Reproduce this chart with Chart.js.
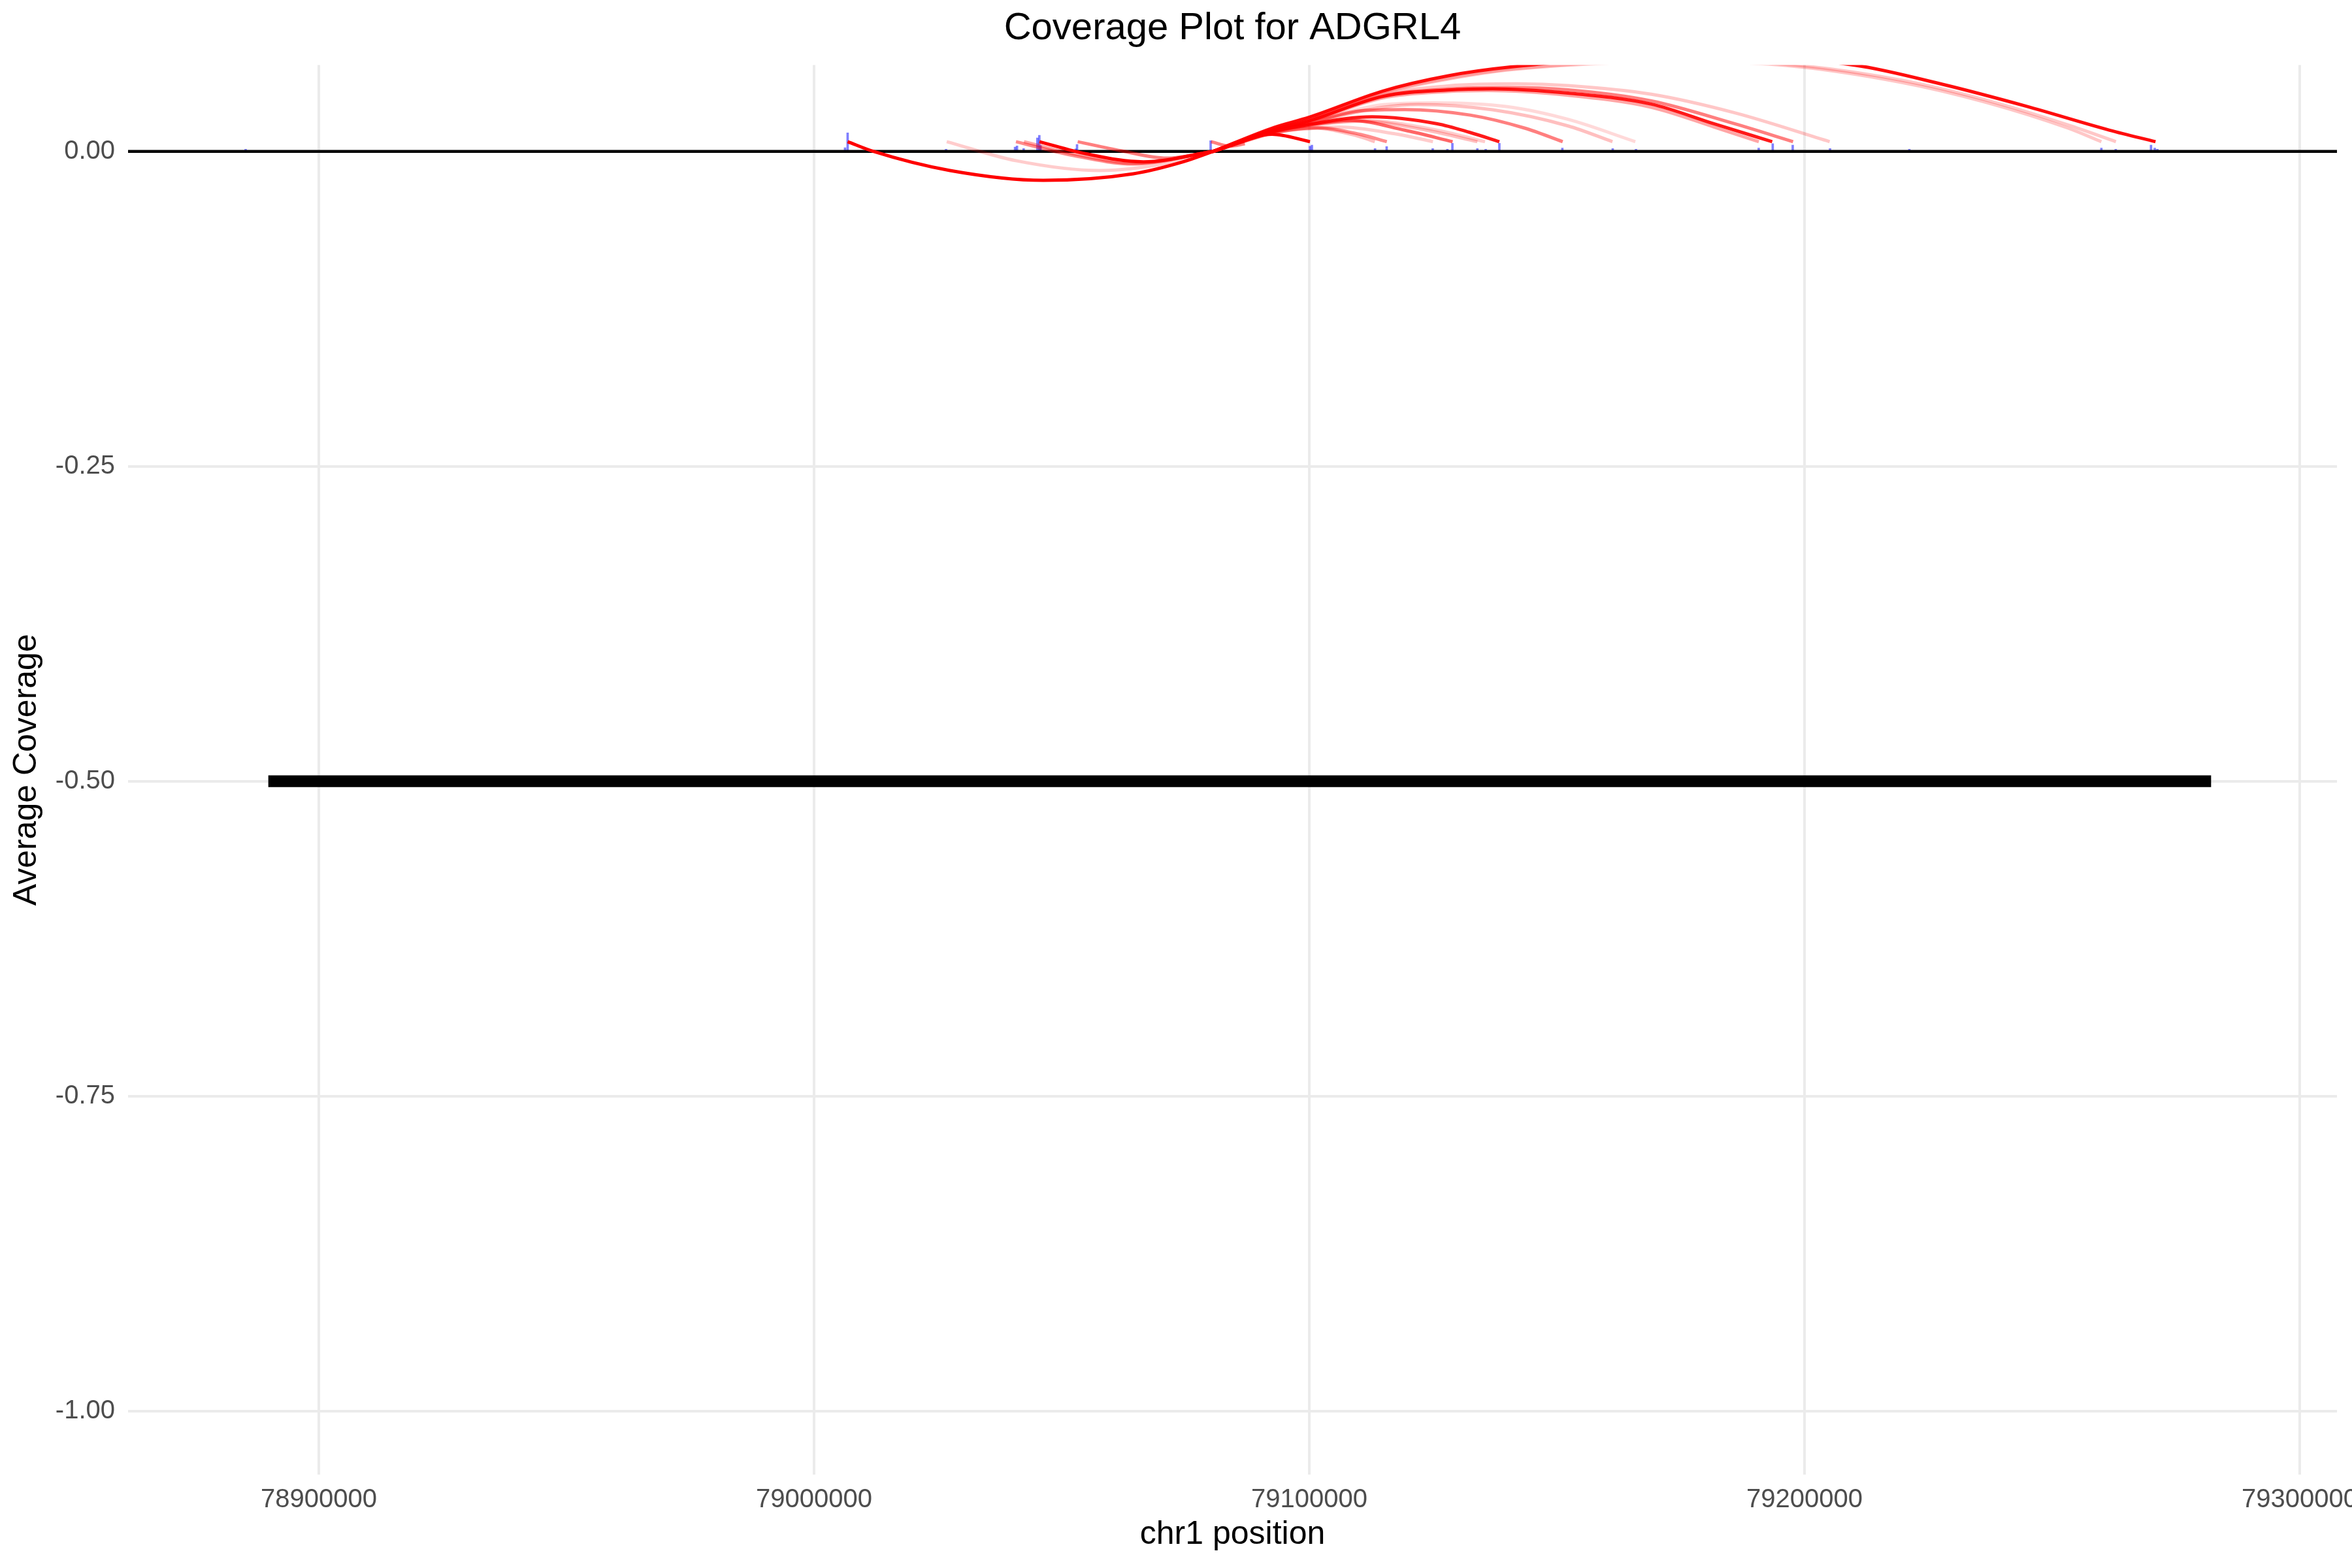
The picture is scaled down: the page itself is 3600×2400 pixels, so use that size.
<!DOCTYPE html>
<html>
<head>
<meta charset="utf-8">
<script src="https://cdn.jsdelivr.net/npm/chart.js@4.4.1/dist/chart.umd.min.js"></script>
<style>
html,body{margin:0;padding:0;background:#ffffff;}
canvas{display:block;}
</style>
</head>
<body>
<canvas id="c" width="3600" height="2400" style="width:3600px;height:2400px"></canvas>
<script>
// ---------------- data ----------------
const chartTitle = 'Coverage Plot for ADGRL4';
const xTitle = 'chr1 position';
const yTitle = 'Average Coverage';

const xTicks = [78900000, 79000000, 79100000, 79200000, 79300000];
const yTicks = [-1.00, -0.75, -0.50, -0.25, 0.00];
const xRange = [78861478, 79307520];
const yRange = [-1.0503, 0.0685];

// gene model (thick black bar)
const geneSpan = [78889800, 79282100];
const geneLevel = -0.5;

// baseline at zero
const baseLevel = 0;

// average coverage spikes
const covPos = [78885224, 79006258, 79006784, 79026653, 79040585, 79040981, 79042327, 79045098, 79045492, 79045769,
                79052828, 79053105, 79080085, 79100138, 79100534, 79113278, 79115627, 79124928, 79127887, 79128899,
                79133938, 79135627, 79138384, 79151102, 79161274, 79165971, 79190753, 79193584, 79197621, 79205154,
                79221171, 79259945, 79262847, 79269971, 79270725, 79271254];
const covVal = [0.0017, 0.0029, 0.0147, 0.0017, 0.0034, 0.0043, 0.0022, 0.0107, 0.0128, 0.0046,
                0.0020, 0.0055, 0.0085, 0.0041, 0.0050, 0.0022, 0.0038, 0.0022, 0.0017, 0.0064,
                0.0022, 0.0017, 0.0064, 0.0027, 0.0022, 0.0017, 0.0027, 0.0062, 0.0050, 0.0022,
                0.0017, 0.0027, 0.0017, 0.0050, 0.0027, 0.0017];

// junction arcs: points [position, height]
const arcLines = [
  // lower arcs
  [[79006784,0.0077],[79011968,0.0],[79027444,-0.0152],[79046297,-0.0230],[79064477,-0.0178],[79074543,-0.0083],[79080625,0]],
  [[79026785,0.0077],[79040900,-0.0075],[79057749,-0.0152],[79072000,-0.0090],[79080625,0]],
  [[79040769,0.0077],[79052000,-0.0030],[79064477,-0.0100],[79080625,0]],
  [[79042392,0.0077],[79053000,-0.0025],[79065000,-0.0095],[79080625,0]],
  [[79045492,0.0077],[79055000,-0.0020],[79066496,-0.0083],[79080625,0]],
  [[79053237,0.0077],[79062000,0.0005],[79071206,-0.0054],[79080625,0]],
  [[79080164,0.0077],[79084000,0.0042],[79087000,0.0060]],
  // upper arcs
  [[79080625,0],[79092500,0.0136],[79100138,0.0077]],
  [[79080625,0],[79092900,0.0145],[79100800,0.0185],[79109594,0.0124],[79113232,0.0077]],
  [[79080625,0],[79092900,0.0148],[79101677,0.0188],[79110470,0.0133],[79115657,0.0077]],
  [[79080625,0],[79092900,0.0150],[79100000,0.0180],[79106076,0.0193],[79117067,0.0141],[79124970,0.0077]],
  [[79080625,0],[79092900,0.0155],[79100000,0.0210],[79108275,0.0246],[79119270,0.0168],[79128943,0.0077]],
  [[79080625,0],[79092900,0.0158],[79100000,0.0205],[79110470,0.0240],[79123663,0.0168],[79133938,0.0077]],
  [[79080625,0],[79092900,0.0158],[79100000,0.0208],[79111000,0.0245],[79125000,0.0175],[79135495,0.0077]],
  [[79080625,0],[79092900,0.0160],[79100000,0.0215],[79112670,0.0275],[79125863,0.0219],[79132459,0.0150],[79138384,0.0077]],
  [[79080625,0],[79092900,0.0165],[79100000,0.0225],[79110470,0.0323],[79119270,0.0332],[79132459,0.0288],[79143454,0.0185],[79151173,0.0077]],
  [[79080625,0],[79092900,0.0167],[79100000,0.0228],[79114874,0.0350],[79122000,0.0372],[79137000,0.0330],[79152252,0.0202],[79161224,0.0077]],
  [[79080625,0],[79092900,0.0168],[79100000,0.0232],[79114874,0.0370],[79125000,0.0385],[79140000,0.0355],[79152252,0.0254],[79165840,0.0077]],
  [[79080625,0],[79092900,0.0172],[79100000,0.0240],[79114874,0.0425],[79128067,0.0475],[79136000,0.0483],[79152252,0.0445],[79169087,0.0350],[79181700,0.0194],[79190774,0.0077]],
  [[79080625,0],[79092900,0.0174],[79100000,0.0243],[79114874,0.0436],[79128067,0.0487],[79137000,0.0496],[79152252,0.0462],[79169087,0.0375],[79181700,0.0219],[79193480,0.0077]],
  [[79080625,0],[79092900,0.0175],[79100000,0.0245],[79114874,0.0440],[79128067,0.0495],[79140000,0.0506],[79152252,0.0488],[79169087,0.0400],[79185900,0.0219],[79197688,0.0077]],
  [[79080625,0],[79092900,0.0178],[79100000,0.0250],[79114874,0.0450],[79128067,0.0520],[79142000,0.0536],[79152252,0.0522],[79169087,0.0453],[79185900,0.0306],[79205088,0.0077]],
  [[79080625,0],[79092900,0.0183],[79100000,0.0260],[79114874,0.0465],[79128067,0.0574],[79141260,0.0650],[79173000,0.0710],[79195997,0.0683],[79219533,0.0548],[79236394,0.0392],[79253176,0.0185],[79259945,0.0077]],
  [[79080625,0],[79092900,0.0185],[79100000,0.0262],[79114874,0.0470],[79128067,0.0580],[79141260,0.0655],[79175000,0.0720],[79198000,0.0685],[79219533,0.0565],[79236394,0.0410],[79253176,0.0210],[79262887,0.0077]],
  [[79080625,0],[79092900,0.0190],[79100000,0.0271],[79114874,0.0479],[79128067,0.0600],[79141260,0.0672],[79178000,0.0770],[79210301,0.0683],[79227980,0.0531],[79244800,0.0358],[79261622,0.0168],[79270882,0.0077]]
];
const arcAlpha = [1.0, 0.2, 0.45, 0.35, 1.0, 0.5, 0.5,
                  1.0, 0.25, 0.45, 0.2, 0.6, 0.25, 0.2, 0.9, 0.5, 0.25, 0.15, 0.35, 0.9, 0.5, 0.22, 0.22, 0.22, 0.95];

// ---------------- chart ----------------
const FONT = "'Liberation Sans', Arial, Helvetica, sans-serif";
Chart.defaults.font.family = FONT;

const datasets = [];
arcLines.forEach((pts, i) => {
  datasets.push({
    type: 'line',
    data: pts.map(p => ({x: p[0], y: p[1]})),
    borderColor: 'rgba(255,0,0,' + arcAlpha[i] + ')',
    borderWidth: 5,
    pointRadius: 0,
    cubicInterpolationMode: 'monotone',
    borderCapStyle: 'butt',
    fill: false,
    clip: 0,
    order: 1
  });
});
datasets.push({
  type: 'line',
  data: [{x: xRange[0], y: baseLevel}, {x: xRange[1], y: baseLevel}],
  borderColor: '#000000',
  borderWidth: 4.5,
  pointRadius: 0,
  fill: false,
  clip: 0,
  order: 2
});
datasets.push({
  type: 'bar',
  data: covPos.map((x, i) => ({x: x, y: covVal[i]})),
  backgroundColor: 'rgba(0,0,255,0.5)',
  borderWidth: 0,
  barThickness: 3,
  order: 3
});
datasets.push({
  type: 'line',
  data: [{x: geneSpan[0], y: geneLevel}, {x: geneSpan[1], y: geneLevel}],
  borderColor: '#000000',
  borderWidth: 18,
  borderCapStyle: 'butt',
  pointRadius: 0,
  fill: false,
  order: 4
});

new Chart(document.getElementById('c'), {
  type: 'line',
  data: {datasets: datasets},
  options: {
    responsive: false,
    devicePixelRatio: 1,
    animation: false,
    events: [],
    layout: {padding: {left: 0, right: 23, top: 0, bottom: 0}},
    plugins: {
      legend: {display: false},
      tooltip: {enabled: false},
      title: {
        display: true,
        text: chartTitle,
        fullSize: false,
        color: '#000000',
        font: {size: 58, weight: 'normal', family: FONT},
        padding: {top: 9, bottom: 21}
      }
    },
    scales: {
      x: {
        type: 'linear',
        min: xRange[0],
        max: xRange[1],
        offset: false,
        afterBuildTicks: s => { s.ticks = xTicks.map(v => ({value: v})); },
        afterFit: s => { s.height = 143; s.paddingLeft = 0; s.paddingRight = 0; },
        grid: {color: '#ebebeb', lineWidth: 4, drawTicks: false, offset: false},
        border: {display: false},
        ticks: {
          font: {size: 40, family: FONT},
          color: '#4d4d4d',
          padding: 15,
          maxRotation: 0,
          autoSkip: false,
          callback: v => String(v)
        },
        title: {
          display: true,
          text: xTitle,
          color: '#000000',
          font: {size: 50, family: FONT},
          padding: {top: 0, bottom: 21}
        }
      },
      y: {
        type: 'linear',
        min: yRange[0],
        max: yRange[1],
        afterBuildTicks: s => { s.ticks = yTicks.map(v => ({value: v})); },
        afterFit: s => { s.width = 196; s.paddingTop = 0; s.paddingBottom = 0; },
        grid: {color: '#ebebeb', lineWidth: 4, drawTicks: false},
        border: {display: false},
        ticks: {
          font: {size: 40, family: FONT},
          color: '#4d4d4d',
          padding: 20,
          autoSkip: false,
          callback: v => Number(v).toFixed(2)
        },
        title: {
          display: true,
          text: yTitle,
          color: '#000000',
          font: {size: 50, family: FONT},
          padding: {top: 11, bottom: 0}
        }
      }
    }
  }
});
</script>
</body>
</html>
